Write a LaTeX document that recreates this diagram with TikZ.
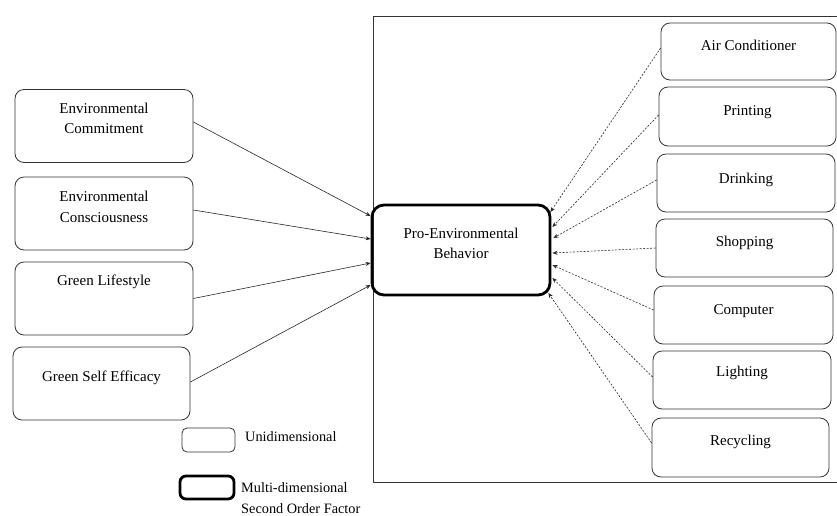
\documentclass[tikz,border=0pt]{standalone}
\usepackage{fontspec}
\setmainfont{Liberation Serif}
\usetikzlibrary{arrows.meta}
\begin{document}
\begin{tikzpicture}[x=1pt,y=-1pt,
  font=\fontsize{15}{20.5}\selectfont,
  ubox/.style={draw=black!80,line width=0.8pt,rounded corners=9pt,inner sep=0pt},
  thickbox/.style={ubox,draw=black,line width=2.8pt},
  lbox/.style={ubox,minimum width=178pt,minimum height=73pt},
  rbox/.style={ubox,minimum width=177pt,minimum height=58pt},
  lbl/.style={align=center,inner sep=0pt},
  legtext/.style={font=\fontsize{14.3}{21}\selectfont,inner sep=0pt},
  solidarr/.style={draw=black!85,line width=0.6pt,-{Stealth[length=5pt,width=4pt]}},
  dasharr/.style={draw=black!85,line width=0.6pt,dash pattern=on 2pt off 1.5pt,-{Stealth[length=5pt,width=4pt]}}
]
\useasboundingbox (0,0) rectangle (837,515);
% big frame
\coordinate (f1) at (837,16);
\coordinate (f2) at (373,16);
\coordinate (f3) at (373,482);
\coordinate (f4) at (837,482);
\draw[draw=black!80,line width=0.9pt] (f1) -- (f2) -- (f3) -- (f4);
% left boxes
\node[lbox] (b1) at (104,126) {};
\node[lbl] (t1) at (104,118.5) {Environmental\\Commitment};
\node[lbox] (b2) at (104,213.5) {};
\node[lbl] (t2) at (104,207) {Environmental\\Consciousness};
\node[lbox] (b3) at (104,298.5) {};
\node[lbl] (t3) at (104,282) {Green Lifestyle};
\node[lbox,minimum width=177pt] (b4) at (101.5,383.5) {};
\node[lbl] (t4) at (101.5,378) {Green Self Efficacy};
% central
\node[thickbox,rounded corners=12pt,minimum width=178pt,minimum height=90pt] (pe) at (461,250) {};
\node[lbl] (tpe) at (461,243.5) {Pro-Environmental\\Behavior};
% right boxes
\node[rbox,minimum width=175pt,minimum height=57pt] (r1) at (748.5,51.5) {};
\node[lbl] (s1) at (748.5,45) {Air Conditioner};
\node[rbox,minimum height=59pt] (r2) at (747.5,116.5) {};
\node[lbl] (s2) at (747.5,112) {Printing};
\node[rbox,minimum width=178pt] (r3) at (746,183) {};
\node[lbl] (s3) at (746,180) {Drinking};
\node[rbox] (r4) at (744.5,248) {};
\node[lbl] (s4) at (744.5,243) {Shopping};
\node[rbox,minimum width=179pt] (r5) at (743.5,315) {};
\node[lbl] (s5) at (743.5,311) {Computer};
\node[rbox,minimum width=178pt] (r6) at (742,380) {};
\node[lbl] (s6) at (742,373) {Lighting};
\node[rbox,minimum height=59pt] (r7) at (740.5,447.5) {};
\node[lbl] (s7) at (740.5,442) {Recycling};
% solid arrows
\draw[solidarr] ([yshift=4pt]b1.east) -- ([yshift=34pt]pe.west);
\draw[solidarr] ([yshift=3.5pt]b2.east) -- ([yshift=11pt]pe.west);
\draw[solidarr] (b3.east) -- ([yshift=-13pt]pe.west);
\draw[solidarr] ([yshift=1.5pt]b4.east) -- ([yshift=-35pt]pe.west);
% dashed arrows
\draw[dasharr] ([yshift=3.5pt]r1.west) -- ([xshift=-1pt,yshift=38pt]pe.east);
\draw[dasharr] ([yshift=1.5pt]r2.west) -- ([xshift=1pt,yshift=23pt]pe.east);
\draw[dasharr] ([yshift=3pt]r3.west) -- ([xshift=2pt,yshift=12pt]pe.east);
\draw[dasharr] (r4.west) -- ([xshift=1pt,yshift=-3pt]pe.east);
\draw[dasharr] ([yshift=5pt]r5.west) -- ([xshift=1pt,yshift=-15pt]pe.east);
\draw[dasharr] ([yshift=3pt]r6.west) -- ([xshift=1pt,yshift=-28pt]pe.east);
\draw[dasharr] ([yshift=4.5pt]r7.west) -- ([xshift=-3pt,yshift=-43pt]pe.east);
% legend
\node[ubox,rounded corners=5pt,minimum width=53pt,minimum height=24pt] (lg1) at (208.5,440) {};
\node[legtext,anchor=west] (lt1) at (245,437) {Unidimensional};
\node[thickbox,rounded corners=6pt,minimum width=54pt,minimum height=23pt] (lg2) at (207,487.5) {};
\node[legtext,anchor=west,align=left] (lt2) at (241,498) {Multi-dimensional\\Second Order Factor};
\end{tikzpicture}
\end{document}
